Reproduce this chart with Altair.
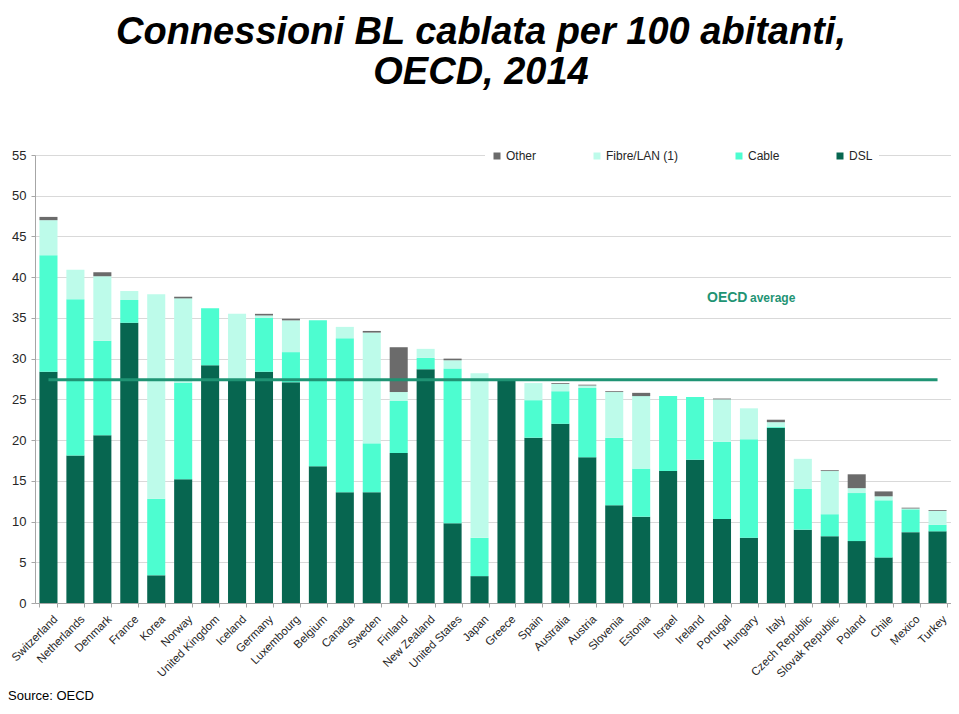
import altair as alt
import pandas as pd

countries = ["Switzerland", "Netherlands", "Denmark", "France", "Korea", "Norway",
             "United Kingdom", "Iceland", "Germany", "Luxembourg", "Belgium", "Canada",
             "Sweden", "Finland", "New Zealand", "United States", "Japan", "Greece",
             "Spain", "Australia", "Austria", "Slovenia", "Estonia", "Israel", "Ireland",
             "Portugal", "Hungary", "Italy", "Czech Republic", "Slovak Republic",
             "Poland", "Chile", "Mexico", "Turkey"]
dsl = [28.4, 18.1, 20.6, 34.4, 3.4, 15.2, 29.2, 27.5, 28.4, 27.1, 16.8, 13.6, 13.6, 18.4,
       28.7, 9.8, 3.3, 27.5, 20.3, 22.0, 17.9, 12.0, 10.6, 16.2, 17.6, 10.3, 8.0, 21.5,
       9.0, 8.2, 7.6, 5.6, 8.7, 8.8]
cable = [14.3, 19.2, 11.6, 2.8, 9.4, 11.8, 7.0, 0.0, 6.6, 3.7, 17.9, 18.9, 6.0, 6.4,
         1.4, 19.0, 4.7, 0.0, 4.6, 4.0, 8.5, 8.3, 5.9, 9.2, 7.7, 9.5, 12.1, 0.1,
         5.0, 2.7, 5.9, 7.0, 2.8, 0.8]
fibre = [4.3, 3.6, 7.9, 1.1, 25.1, 10.4, 0.0, 8.0, 0.3, 3.9, 0.0, 1.4, 13.6, 1.1,
         1.1, 1.0, 20.2, 0.0, 2.1, 0.9, 0.3, 5.6, 8.9, 0.0, 0.0, 5.2, 3.8, 0.6,
         3.7, 5.3, 0.6, 0.5, 0.1, 1.7]
other = [0.4, 0.0, 0.5, 0.0, 0.0, 0.2, 0.0, 0.0, 0.2, 0.2, 0.0, 0.0, 0.2, 5.5,
         0.0, 0.2, 0.0, 0.0, 0.0, 0.1, 0.1, 0.1, 0.4, 0.0, 0.0, 0.1, 0.0, 0.3,
         0.0, 0.1, 1.7, 0.6, 0.1, 0.1]
oecd_average = 27.4

series_names = ["Other", "Fibre/LAN (1)", "Cable", "DSL"]
series_colors = ["#6B6B6B", "#BDFBEA", "#4DFDD0", "#076650"]
stack_rank = {"DSL": 0, "Cable": 1, "Fibre/LAN (1)": 2, "Other": 3}
series_values = {"DSL": dsl, "Cable": cable, "Fibre/LAN (1)": fibre, "Other": other}

rows = []
for name, vals in series_values.items():
    for c, v in zip(countries, vals):
        rows.append({"country": c, "type": name, "value": v, "rank": stack_rank[name]})
df = pd.DataFrame(rows)
avg_df = pd.DataFrame({"country": countries, "avg": [oecd_average] * len(countries)})

FONT = "Liberation Sans"
GREEN = "#1F9474"

x_scale = alt.Scale(domain=countries, paddingInner=0.33, paddingOuter=0.165)
y_scale = alt.Scale(domain=[0, 55], nice=False)

bars = alt.Chart(df).mark_bar().encode(
    x=alt.X("country:N", scale=x_scale, sort=countries,
            axis=alt.Axis(title=None, labelAngle=-45, labelAlign="right",
                          labelBaseline="top", tickBand="extent", tickSize=4,
                          labelPadding=6, labelOffset=3, labelFontSize=11.5,
                          labelFont=FONT, labelColor="#262626",
                          domainColor="#A6A6A6", tickColor="#A6A6A6", grid=False)),
    y=alt.Y("value:Q", scale=y_scale, stack="zero",
            axis=alt.Axis(title=None, values=list(range(0, 56, 5)), tickSize=4,
                          labelPadding=5, labelFontSize=13, labelFont=FONT,
                          labelColor="#262626", domainColor="#A6A6A6",
                          tickColor="#A6A6A6", gridColor="#D9D9D9")),
    color=alt.Color("type:N", scale=alt.Scale(domain=series_names, range=series_colors),
                    legend=alt.Legend(title=None, orient="none", direction="horizontal",
                                      legendX=450, legendY=-11, columns=4,
                                      gridAlign="none", columnPadding=54,
                                      symbolType="square", symbolSize=49,
                                      symbolStrokeWidth=0, labelFontSize=12,
                                      labelFont=FONT, labelColor="#262626",
                                      labelOffset=3, fillColor="white", padding=6)),
    order=alt.Order("rank:Q", sort="ascending"),
)

avg_line = alt.Chart(avg_df).mark_line(color=GREEN, strokeWidth=3).encode(
    x=alt.X("country:N", scale=x_scale, sort=countries),
    y=alt.Y("avg:Q", scale=y_scale),
)

lbl1 = alt.Chart(pd.DataFrame({"t": ["OECD"]})).mark_text(
    font=FONT, fontSize=14, fontWeight="bold", color=GREEN, align="left",
    baseline="alphabetic").encode(text="t:N", x=alt.value(672), y=alt.value(147))
lbl2 = alt.Chart(pd.DataFrame({"t": ["average"]})).mark_text(
    font=FONT, fontSize=12, fontWeight="bold", color=GREEN, align="left",
    baseline="alphabetic").encode(text="t:N", x=alt.value(715), y=alt.value(147))
source = alt.Chart(pd.DataFrame({"t": ["Source: OECD"]})).mark_text(
    font=FONT, fontSize=13, color="#000000", align="left",
    baseline="alphabetic").encode(text="t:N", x=alt.value(-27), y=alt.value(545))

chart = alt.layer(bars, avg_line, lbl1, lbl2, source).properties(
    width=916, height=448,
    padding={"left": 27, "top": 147, "right": 0, "bottom": 100},
    autosize=alt.AutoSizeParams(type="none"),
    title=alt.TitleParams(
        text=["Connessioni BL cablata per 100 abitanti,", "OECD, 2014"],
        font=FONT, fontSize=38, fontStyle="italic", fontWeight="bold",
        color="#000000", anchor="middle", dx=-12, offset=52, lineHeight=40),
).configure_view(stroke=None)

chart.save("out.html", embed_options={"renderer": "svg", "actions": False})
